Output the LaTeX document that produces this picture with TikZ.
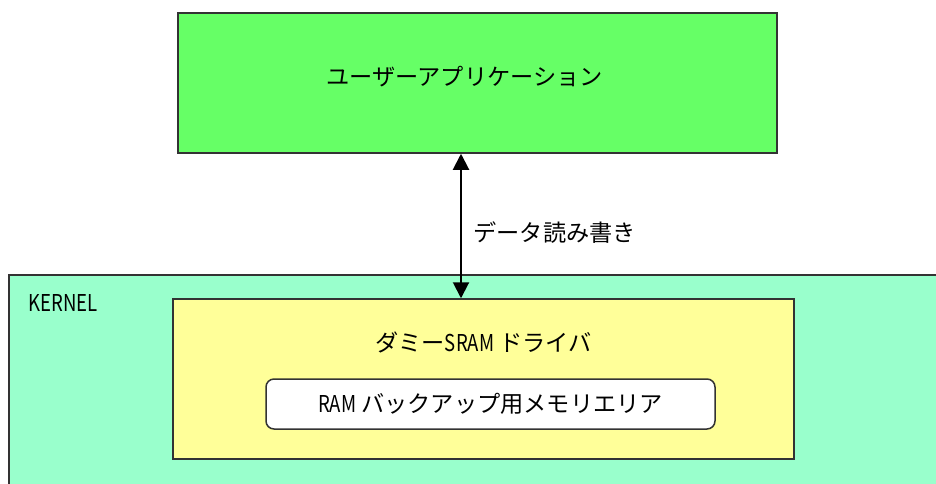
\documentclass[tikz,border=0pt]{standalone}
\usepackage{fontspec}
\setmainfont{Noto Sans CJK JP}
\newfontfamily\narrowlatin[FakeStretch=0.8]{Noto Sans CJK JP}
\usetikzlibrary{arrows.meta,positioning}

\definecolor{appgreen}{HTML}{66FF66}
\definecolor{kernmint}{HTML}{99FFCC}
\definecolor{drvyellow}{HTML}{FFFF99}

\newcommand{\nl}[1]{{\narrowlatin #1}}

\begin{document}
\begin{tikzpicture}[
  x=0.5pt, y=-0.5pt,
  font=\fontsize{11.6pt}{14pt}\selectfont,
  box/.style  ={draw=black!80, line width=0.75pt, inner sep=0pt},
  app/.style  ={box, fill=appgreen, minimum width=299.5pt, minimum height=70pt},
  kern/.style ={box, fill=kernmint, minimum width=468pt, minimum height=110pt},
  drv/.style  ={box, fill=drvyellow, minimum width=310.5pt, minimum height=80pt},
  mem/.style  ={box, fill=white, rounded corners=4pt, minimum width=224.5pt, minimum height=25pt},
  ar/.style   ={{Triangle[length=8pt,width=8pt]}-{Triangle[length=8pt,width=8pt]}, line width=1pt},
  lbl/.style  ={inner sep=0pt},
]
\useasboundingbox (0,0) rectangle (936,483);
\clip (0,0) rectangle (936,483);

% --- boxes ---
\node[app]  (app)  at (477.5,83) {};
\node[kern] (kern) at (477,385)  {};
\node[drv]  (drv)  at (483.5,379) {};
\node[mem]  (mem)  at (490.5,404) {};

% --- texts ---
\node[lbl] (applbl) at (464.5,77) {ユーザーアプリケーション};
\node[lbl, anchor=west] (kernlbl) at (28,303) {\nl{KERNEL}};
\node[lbl] (drvlbl) at (483.5,342) {ダミー\nl{SRAM} ドライバ};
\node[lbl] (memlbl) at (mem) {\nl{RAM} バックアップ用メモリエリア};

% --- data path ---
\coordinate (io) at (461,0);
\draw[ar] (app.south -| io) -- (drv.north -| io);
\node[lbl, anchor=west] (rw) at (473,233) {データ読み書き};
\end{tikzpicture}
\end{document}
